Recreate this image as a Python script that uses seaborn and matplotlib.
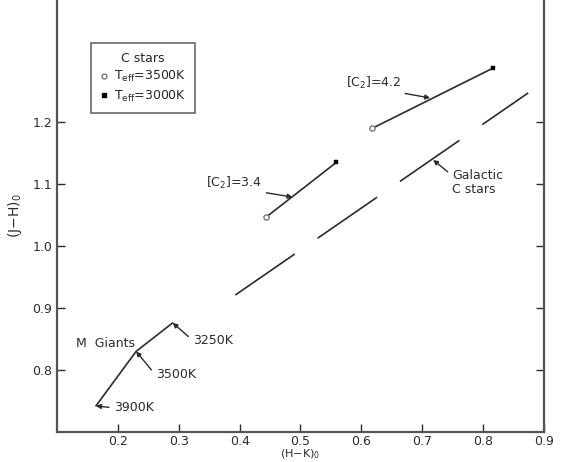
import numpy as np
import pandas as pd
import matplotlib
matplotlib.use("Agg")
import matplotlib.pyplot as plt
from matplotlib.lines import Line2D
import seaborn as sns

# M giant sequence
giants_x = [0.164, 0.23, 0.29]
giants_y = [0.742, 0.83, 0.876]
giants_teff = ["3900K", "3500K", "3250K"]

# C star model lines: open end = 3500K, filled end = 3000K
c34_x = [0.444, 0.559]
c34_y = [1.047, 1.135]
c42_x = [0.618, 0.816]
c42_y = [1.19, 1.287]

# galactic C star locus
gal_x = [0.393, 0.874]
gal_y = [0.921, 1.247]

xticks = [0.2, 0.3, 0.4, 0.5, 0.6, 0.7, 0.8, 0.9]
yticks = [0.8, 0.9, 1.0, 1.1, 1.2]
ytick_labels = ["0.8", "0.9", "1.0", "1.1", "1.2"]

sns.set_style("white")
plt.rcParams["font.family"] = ["DejaVu Sans"]
plt.rcParams["lines.scale_dashes"] = False

ink = "#2b2b2b"
fig = plt.figure(figsize=(5.64, 4.62), dpi=100)
ax = fig.add_axes([0.101, 0.065, 0.8635, 0.935])

giants = pd.DataFrame({"x": giants_x, "y": giants_y})
sns.lineplot(data=giants, x="x", y="y", sort=False, color=ink, lw=1.2, ax=ax)

for xs, ys in [(c34_x, c34_y), (c42_x, c42_y)]:
    df = pd.DataFrame({"x": xs, "y": ys})
    sns.lineplot(data=df, x="x", y="y", sort=False, color=ink, lw=1.2, ax=ax)
    sns.scatterplot(x=[xs[0]], y=[ys[0]], marker="o", s=14, facecolor="white",
                    edgecolor="#777777", linewidth=1.0, ax=ax, zorder=5)
    sns.scatterplot(x=[xs[1]], y=[ys[1]], marker="s", s=12, color="black",
                    edgecolor="black", ax=ax, zorder=5)

gal = pd.DataFrame({"x": gal_x, "y": gal_y})
sns.lineplot(data=gal, x="x", y="y", color=ink, lw=1.2, ax=ax,
             dashes=False).lines[-1].set_dashes((52, 20))

fs = 9
arrow = dict(arrowstyle="-|>", color=ink, lw=1.0, mutation_scale=7,
             shrinkA=1, shrinkB=0, relpos=(0, 0.5))

ax.text(0.131, 0.8435, "M  Giants", fontsize=fs, color=ink, ha="left", va="center")
label_pos = {"3900K": (0.193, 0.739), "3500K": (0.262, 0.792), "3250K": (0.323, 0.848)}
for gx, gy, t in zip(giants_x, giants_y, giants_teff):
    ax.annotate(t, xy=(gx, gy), xytext=label_pos[t], fontsize=fs, color=ink,
                ha="left", va="center", arrowprops=arrow)

ax.annotate(r"$\left[\mathrm{C}_2\right]$=3.4", xy=(0.487, 1.079), xytext=(0.344, 1.102),
            fontsize=fs, color=ink, ha="left", va="center", arrowprops=arrow)
ax.annotate(r"$\left[\mathrm{C}_2\right]$=4.2", xy=(0.713, 1.239), xytext=(0.574, 1.263),
            fontsize=fs, color=ink, ha="left", va="center", arrowprops=arrow)
ax.annotate("Galactic\nC stars", xy=(0.718, 1.139), xytext=(0.749, 1.103),
            fontsize=fs, color=ink, ha="left", va="center", linespacing=1.1,
            arrowprops=dict(arrow, relpos=(0, 0.75)))

handles = [Line2D([], [], ls="none", marker="o", ms=3.5, mfc="white", mec="#777777"),
           Line2D([], [], ls="none", marker="s", ms=3.5, mfc="black", mec="black")]
leg = ax.legend(handles, [r"T$_{\rm eff}$=3500K", r"T$_{\rm eff}$=3000K"],
                title="C stars", loc="upper left", bbox_to_anchor=(0.07, 0.90),
                borderaxespad=0, fontsize=fs, title_fontsize=fs, frameon=True,
                fancybox=False, handlelength=0.6, handletextpad=0.5,
                borderpad=0.7, labelspacing=0.35)
leg.get_frame().set_edgecolor("#444444")
leg.get_frame().set_linewidth(1.2)

ax.set_xlim(0.1, 0.9)
ax.set_ylim(0.7, 1.397)
ax.set_xticks(xticks)
ax.set_xticklabels([f"{v:.1f}" for v in xticks])
ax.set_yticks(yticks)
ax.set_yticklabels(ytick_labels)
ax.tick_params(direction="in", length=6, width=1.0, colors=ink, labelsize=fs,
               right=True, left=True, bottom=True, top=False)
ax.tick_params(axis="x", pad=2)
ax.set_xlabel(r"(H$-$K)$_0$", fontsize=8, color=ink, labelpad=0)
ax.set_ylabel(r"(J$-$H)$_0$", fontsize=fs + 1, color=ink, labelpad=6)

for side in ["left", "right", "bottom"]:
    ax.spines[side].set_color("#555555")
    ax.spines[side].set_linewidth(1.6)
ax.spines["top"].set_visible(False)

fig.savefig("out.png", dpi=100)
